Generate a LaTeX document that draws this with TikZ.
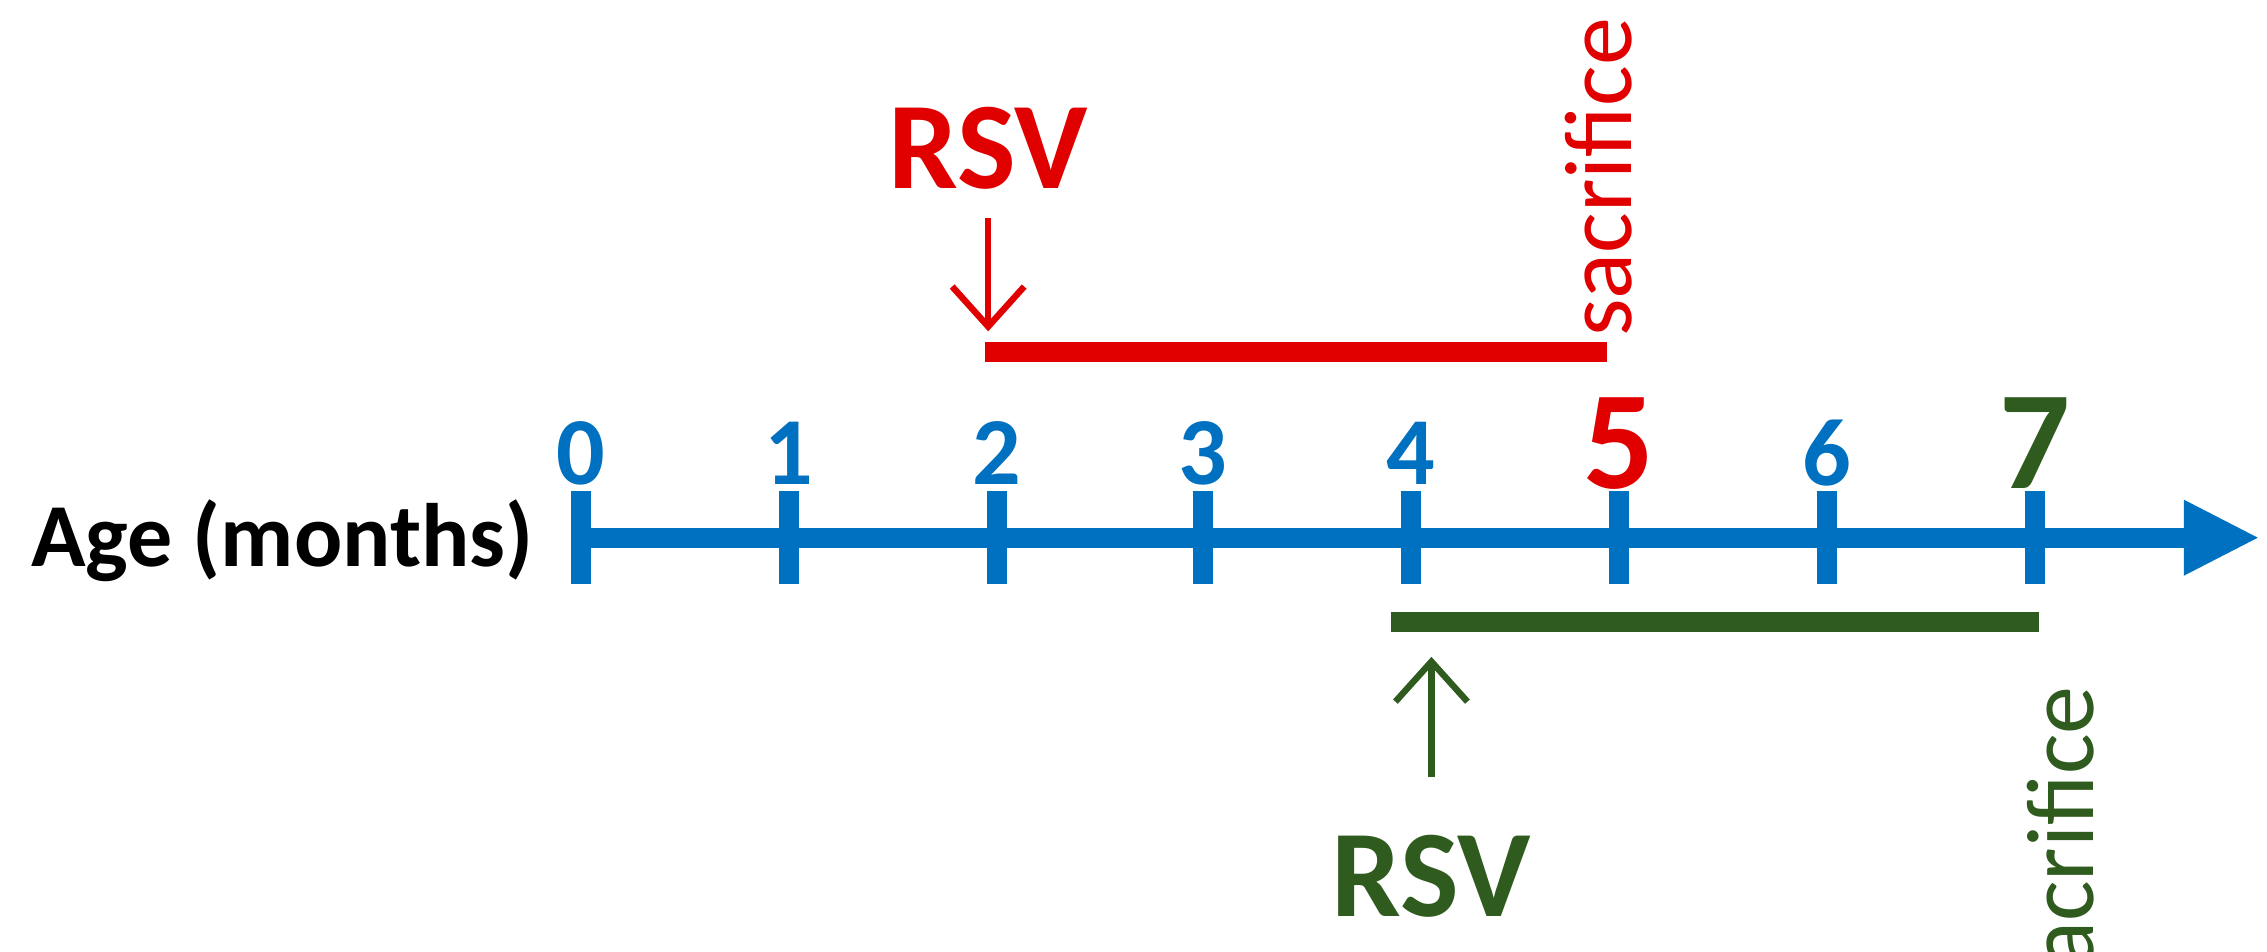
\documentclass[tikz,border=0pt]{standalone}
\usepackage{fontspec}
\setmainfont{Carlito}
\usetikzlibrary{arrows.meta}
\definecolor{ablue}{HTML}{0070C0}
\definecolor{ared}{HTML}{E00000}
\definecolor{agreen}{HTML}{2F5B1F}
\begin{document}
\begin{tikzpicture}[x=0.7266pt,y=-0.7266pt,
  tick/.style={ablue,line width=10pt},
  num/.style={ablue,font=\fontsize{48}{50}\selectfont\bfseries},
  big/.style={font=\fontsize{70}{72}\selectfont\bfseries},
  bar/.style={line width=10pt},
  rsv/.style={font=\fontsize{62}{64}\selectfont\bfseries},
  sac/.style={rotate=90,font=\fontsize{48}{50}\selectfont},
  arr/.style={line width=3.2pt,-{Straight Barb[length=20pt,width=36pt]}}]
\path[use as bounding box] (0,0) rectangle (1560,655);
\coordinate (a0) at (400,370);
\coordinate (aend) at (1555,370);
\draw[ablue,line width=10pt,-{Triangle[length=38pt,width=35pt]}] (a0) -- (aend);
\foreach \i/\x in {0/400,1/543,2/686,3/828,4/971,5/1114,6/1257,7/1400}{
  \draw[tick] (\x,338) -- (\x,402);
}
\foreach \i/\x in {0/400,1/543,2/686,3/828,4/971,6/1257}{
  \node[num] (n\i) at (\x,312) {\i};
}
\node[big,ared] (n5) at (1114,305) {5};
\node[big,agreen] (n7) at (1400,305) {7};
\node[font=\fontsize{45}{47}\selectfont\bfseries,anchor=east] (age) at (372,372) {Age (months)};
% red cohort
\coordinate (r1) at (678,242); \coordinate (r2) at (1106,242);
\draw[bar,ared] (r1) -- (r2);
\node[rsv,ared] (rsv1) at (680,102) {RSV};
\coordinate (rs) at (680,150);
\coordinate (ra) at (680,228);
\draw[arr,ared] (rs) -- (ra);
\node[sac,ared] (s1) at (1100,122) {sacrifice};
% green cohort
\coordinate (g1) at (957,428); \coordinate (g2) at (1403,428);
\draw[bar,agreen] (g1) -- (g2);
\node[rsv,agreen] (rsv2) at (985,603) {RSV};
\coordinate (ga) at (985,452); \coordinate (gs) at (985,535);
\draw[arr,agreen] (gs) -- (ga);
\node[sac,agreen] (s2) at (1418,582) {sacrifice};
\end{tikzpicture}
\end{document}
